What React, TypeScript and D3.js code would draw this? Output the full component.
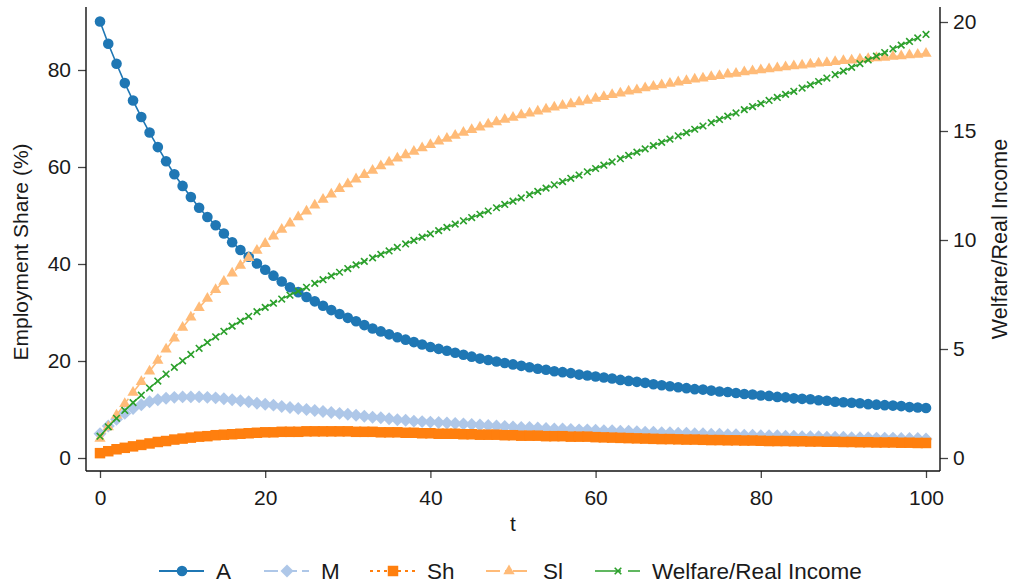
import React, { useEffect, useRef } from 'react';
import * as d3 from 'd3';

// periods 0..100
const periods = d3.range(0, 101);

const shareA = [
  90.0, 85.4, 81.3, 77.3, 73.7, 70.3, 67.1, 64.1, 61.2, 58.5,
  56.1, 53.8, 51.6, 49.7, 48.0, 46.3, 44.5, 42.9, 41.5, 40.1,
  38.8, 37.6, 36.4, 35.2, 34.2, 33.2, 32.3, 31.4, 30.5, 29.7,
  28.9, 28.2, 27.4, 26.7, 26.1, 25.5, 24.9, 24.4, 23.9, 23.4,
  22.9, 22.5, 22.1, 21.7, 21.3, 20.9, 20.5, 20.2, 19.9, 19.6,
  19.3, 19.0, 18.7, 18.4, 18.2, 17.9, 17.7, 17.5, 17.2, 17.0,
  16.8, 16.6, 16.4, 16.1, 15.9, 15.7, 15.5, 15.2, 15.0, 14.8,
  14.6, 14.4, 14.2, 14.1, 13.9, 13.7, 13.6, 13.4, 13.2, 13.1,
  12.9, 12.8, 12.6, 12.5, 12.3, 12.2, 12.1, 11.9, 11.8, 11.6,
  11.5, 11.4, 11.3, 11.1, 11.0, 10.9, 10.8, 10.7, 10.5, 10.4, 10.3,
];

const shareM = [
  5.0, 6.6, 8.0, 9.2, 10.2, 11.0, 11.6, 12.0, 12.3, 12.5,
  12.6, 12.6, 12.6, 12.5, 12.4, 12.2, 12.0, 11.8, 11.6, 11.3,
  11.1, 10.9, 10.6, 10.4, 10.2, 10.0, 9.8, 9.6, 9.4, 9.2,
  9.0, 8.8, 8.6, 8.4, 8.3, 8.1, 7.9, 7.8, 7.6, 7.5,
  7.4, 7.3, 7.2, 7.1, 7.0, 6.9, 6.8, 6.7, 6.6, 6.5,
  6.4, 6.3, 6.3, 6.2, 6.1, 6.0, 6.0, 5.9, 5.8, 5.8,
  5.7, 5.6, 5.6, 5.5, 5.5, 5.4, 5.3, 5.3, 5.2, 5.2,
  5.1, 5.1, 5.0, 5.0, 4.9, 4.9, 4.8, 4.8, 4.7, 4.7,
  4.6, 4.6, 4.6, 4.5, 4.5, 4.4, 4.4, 4.4, 4.3, 4.3,
  4.3, 4.2, 4.2, 4.2, 4.1, 4.1, 4.1, 4.0, 4.0, 4.0, 3.9,
];

const shareSh = [
  1.0, 1.4, 1.8, 2.1, 2.4, 2.7, 3.0, 3.3, 3.5, 3.8,
  4.0, 4.2, 4.4, 4.5, 4.7, 4.8, 4.9, 5.0, 5.1, 5.2,
  5.3, 5.3, 5.4, 5.4, 5.4, 5.5, 5.5, 5.5, 5.5, 5.5,
  5.5, 5.4, 5.4, 5.4, 5.3, 5.3, 5.3, 5.2, 5.2, 5.1,
  5.1, 5.0, 5.0, 5.0, 4.9, 4.9, 4.8, 4.8, 4.8, 4.7,
  4.7, 4.6, 4.6, 4.6, 4.5, 4.5, 4.5, 4.4, 4.4, 4.4,
  4.3, 4.25, 4.2, 4.15, 4.1, 4.05, 4.0, 3.95, 3.9, 3.9,
  3.85, 3.8, 3.8, 3.75, 3.7, 3.7, 3.65, 3.65, 3.6, 3.6,
  3.55, 3.5, 3.5, 3.5, 3.45, 3.45, 3.4, 3.4, 3.35, 3.35,
  3.3, 3.3, 3.25, 3.25, 3.2, 3.2, 3.2, 3.15, 3.15, 3.1, 3.1,
];

const shareSl = [
  4.0, 6.4, 8.8, 11.2, 13.5, 15.7, 17.9, 20.1, 22.4, 24.7,
  26.9, 29.0, 31.0, 32.9, 34.7, 36.4, 38.1, 39.7, 41.3, 42.8,
  44.2, 45.7, 47.1, 48.4, 49.7, 50.9, 52.1, 53.3, 54.4, 55.5,
  56.5, 57.5, 58.4, 59.3, 60.2, 61.0, 61.8, 62.5, 63.2, 63.9,
  64.6, 65.3, 65.9, 66.5, 67.1, 67.7, 68.2, 68.8, 69.3, 69.8,
  70.2, 70.7, 71.1, 71.5, 71.9, 72.3, 72.7, 73.0, 73.4, 73.7,
  74.1, 74.5, 74.9, 75.2, 75.6, 75.9, 76.3, 76.6, 76.9, 77.2,
  77.5, 77.8, 78.1, 78.3, 78.6, 78.8, 79.1, 79.3, 79.6, 79.8,
  80.0, 80.2, 80.4, 80.6, 80.8, 81.0, 81.2, 81.4, 81.5, 81.7,
  81.9, 82.0, 82.2, 82.3, 82.5, 82.6, 82.8, 82.9, 83.1, 83.2, 83.4,
];

const welfare = [
  1.00, 1.43, 1.82, 2.18, 2.54, 2.88, 3.21, 3.53, 3.85, 4.16,
  4.46, 4.75, 5.03, 5.30, 5.56, 5.81, 6.05, 6.28, 6.50, 6.71,
  6.91, 7.10, 7.29, 7.47, 7.65, 7.83, 8.01, 8.18, 8.35, 8.52,
  8.69, 8.86, 9.02, 9.18, 9.34, 9.50, 9.66, 9.82, 9.98, 10.13,
  10.28, 10.43, 10.58, 10.73, 10.88, 11.03, 11.18, 11.33, 11.48, 11.63,
  11.78, 11.93, 12.08, 12.23, 12.38, 12.53, 12.68, 12.83, 12.98, 13.13,
  13.28, 13.43, 13.58, 13.73, 13.88, 14.03, 14.18, 14.33, 14.48, 14.63,
  14.78, 14.93, 15.08, 15.23, 15.38, 15.53, 15.68, 15.83, 15.98, 16.12,
  16.26, 16.40, 16.54, 16.68, 16.82, 16.97, 17.12, 17.27, 17.43, 17.59,
  17.75, 17.92, 18.09, 18.26, 18.43, 18.60, 18.77, 18.94, 19.11, 19.27, 19.43,
];

const xTicks = [0, 20, 40, 60, 80, 100];
const leftTicks = [0, 20, 40, 60, 80];
const rightTicks = [0, 5, 10, 15, 20];

const FONT = '"Liberation Sans", Arial, Helvetica, sans-serif';

const series = [
  { name: 'A', values: shareA, axis: 'left', color: '#1f77b4', marker: 'circle', dash: null, legendX: 159 },
  { name: 'M', values: shareM, axis: 'left', color: '#aec7e8', marker: 'diamond', dash: '14,5', legendX: 264 },
  { name: 'Sh', values: shareSh, axis: 'left', color: '#ff7f0e', marker: 'square', dash: '3,4', legendX: 370 },
  { name: 'Sl', values: shareSl, axis: 'left', color: '#ffbb78', marker: 'triangle', dash: '14,5,3,5', legendX: 486 },
  { name: 'Welfare/Real Income', values: welfare, axis: 'right', color: '#2ca02c', marker: 'x', dash: '26,7', legendX: 595 },
];

function markerPath(kind: string) {
  if (kind === 'circle') return d3.symbol(d3.symbolCircle, Math.PI * 5.3 * 5.3)();
  if (kind === 'diamond') return d3.symbol(d3.symbolSquare, 84)();
  if (kind === 'square') return d3.symbol(d3.symbolSquare, 110)();
  if (kind === 'triangle') return d3.symbol(d3.symbolTriangle, 55)();
  return d3.symbol(d3.symbolX, 30)();
}

function drawMarker(g: any, kind: string, color: string, x: number, y: number) {
  const p = g.append('path')
    .attr('d', markerPath(kind))
    .attr('transform', `translate(${x},${y})` + (kind === 'diamond' ? ' rotate(45)' : ''));
  if (kind === 'x') {
    p.attr('fill', 'none').attr('stroke', color).attr('stroke-width', 1.6);
  } else {
    p.attr('fill', color);
  }
}

function App() {
  const ref = useRef<SVGSVGElement>(null);

  useEffect(() => {
    const svg = d3.select(ref.current);
    svg.selectAll('*').remove();

    const plotLeft = 86, plotRight = 940, plotTop = 7, plotBottom = 471;

    const x = d3.scaleLinear().domain([0, 100]).range([100, 926]);
    const yLeft = d3.scaleLinear().domain([0, 80]).range([458, 70]);
    const yRight = d3.scaleLinear().domain([0, 20]).range([458, 22]);

    const styleAxis = (g: any) => {
      g.select('.domain').remove();
      g.selectAll('.tick line').attr('stroke', '#444').attr('stroke-width', 1.3);
      g.selectAll('.tick text')
        .attr('fill', '#1a1a1a')
        .style('font-family', FONT)
        .style('font-size', '21px');
    };

    svg.append('g')
      .attr('transform', `translate(${plotLeft},0)`)
      .call(d3.axisLeft(yLeft).tickValues(leftTicks).tickSize(8).tickPadding(7))
      .call(styleAxis);

    svg.append('g')
      .attr('transform', `translate(${plotRight},0)`)
      .call(d3.axisRight(yRight).tickValues(rightTicks).tickSize(8).tickPadding(5))
      .call(styleAxis);

    svg.append('g')
      .attr('transform', `translate(0,${plotBottom})`)
      .call(d3.axisBottom(x).tickValues(xTicks).tickSize(7).tickPadding(12))
      .call(styleAxis);

    // axis lines
    const frame = svg.append('g').attr('stroke', '#111').attr('stroke-width', 1.4);
    frame.append('line').attr('x1', plotLeft).attr('x2', plotLeft).attr('y1', plotTop).attr('y2', plotBottom);
    frame.append('line').attr('x1', plotRight).attr('x2', plotRight).attr('y1', plotTop).attr('y2', plotBottom);
    frame.append('line').attr('x1', plotLeft).attr('x2', plotRight).attr('y1', plotBottom).attr('y2', plotBottom);

    // series
    series.forEach(s => {
      const y = s.axis === 'left' ? yLeft : yRight;
      const pts = periods.map((p, i) => [x(p), y(s.values[i])] as [number, number]);
      const g = svg.append('g');
      g.append('path')
        .attr('d', d3.line()(pts))
        .attr('fill', 'none')
        .attr('stroke', s.color)
        .attr('stroke-width', s.marker === 'x' ? 1.4 : 1.6)
        .attr('stroke-dasharray', s.dash);
      pts.forEach(([px, py]) => drawMarker(g, s.marker, s.color, px, py));
    });

    // titles
    const title = (txt: string, tx: number, ty: number, rot: number, size: number) =>
      svg.append('text')
        .attr('transform', `translate(${tx},${ty}) rotate(${rot})`)
        .attr('text-anchor', 'middle')
        .attr('fill', '#1a1a1a')
        .style('font-family', FONT)
        .style('font-size', size + 'px')
        .text(txt);

    title('Employment Share (%)', 28, 252, -90, 21);
    title('Welfare/Real Income', 1007, 239, -90, 21.5);
    title('t', 513, 531, 0, 21);

    // legend
    const legendY = 571;
    series.forEach(s => {
      const g = svg.append('g');
      g.append('line')
        .attr('x1', s.legendX).attr('x2', s.legendX + 45)
        .attr('y1', legendY).attr('y2', legendY)
        .attr('stroke', s.color)
        .attr('stroke-width', s.marker === 'x' ? 1.6 : 2)
        .attr('stroke-dasharray', s.dash);
      drawMarker(g, s.marker, s.color, s.legendX + 23, legendY);
      g.append('text')
        .attr('x', s.legendX + 57)
        .attr('y', legendY + 8)
        .attr('fill', '#1a1a1a')
        .style('font-family', FONT)
        .style('font-size', '22.5px')
        .text(s.name);
    });
  }, []);

  return (
    <svg
      ref={ref}
      width={1014}
      height={585}
      style={{ position: 'absolute', left: 0, top: 0, background: '#fff' }}
    />
  );
}

export default App;
